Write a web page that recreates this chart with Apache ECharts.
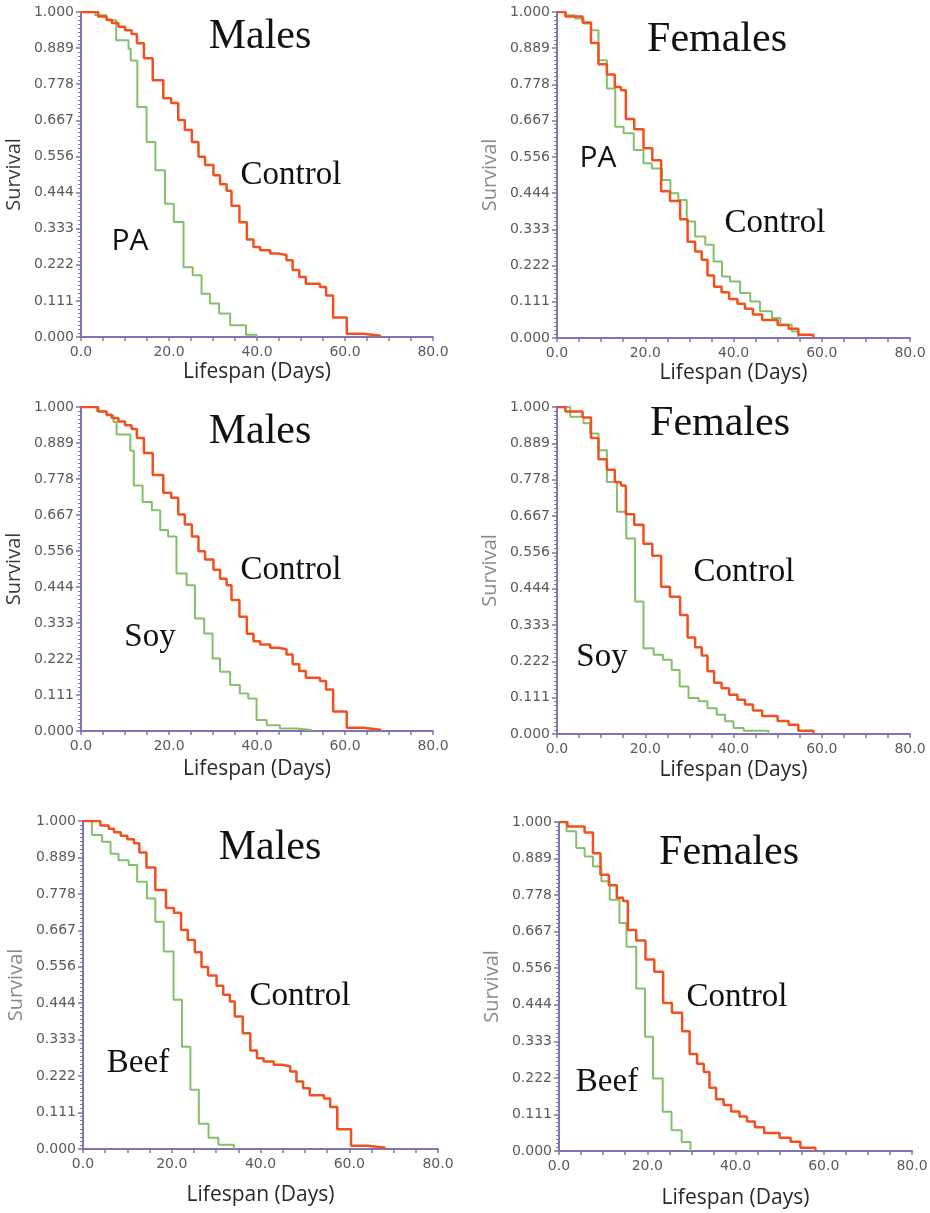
<!DOCTYPE html>
<html>
<head>
<meta charset="utf-8">
<title>Drosophila lifespan: survival curves</title>
<script src="https://cdn.jsdelivr.net/npm/echarts@6.0.0/dist/echarts.min.js"></script>
<style>
  html, body { margin: 0; padding: 0; background: #ffffff; }
  #chart { width: 930px; height: 1213px; }
</style>
</head>
<body>
<div id="chart"></div>
<script>
// ---- Kaplan-Meier step data: day of each step and survival after it ----
// Male control cohort (shared by all male panels)
const maleControlDays = [0, 3.9, 5.8, 7.0, 8.5, 10.0, 11.5, 12.7, 14.3, 16.3, 18.7, 20.5, 22.1, 23.6, 25.2, 26.7, 28.2, 30.1, 31.6, 33.1, 34.2, 36.0, 37.7, 39.2, 40.7, 43.0, 44.8, 46.7, 48.1, 49.6, 51.1, 54.3, 55.7, 57.3, 60.4, 64.2, 68.0];
const maleControlSurv = [1, 0.986, 0.976, 0.966, 0.955, 0.944, 0.932, 0.904, 0.858, 0.79, 0.735, 0.72, 0.668, 0.637, 0.6, 0.555, 0.529, 0.498, 0.47, 0.45, 0.404, 0.353, 0.3, 0.277, 0.267, 0.257, 0.252, 0.236, 0.206, 0.185, 0.164, 0.154, 0.128, 0.06, 0.01, 0.004, 0];

// Female control cohort (shared by all female panels)
const femaleControlDays = [0, 1.9, 5.8, 7.7, 9.4, 11.3, 13.1, 14.5, 15.6, 17.5, 19.6, 21.6, 23.6, 25.6, 27.9, 29.6, 31.3, 32.8, 34.1, 35.6, 37.3, 39.0, 40.9, 42.6, 44.4, 46.5, 50.0, 52.5, 54.7, 58.1];
const femaleControlSurv = [1, 0.986, 0.968, 0.905, 0.84, 0.808, 0.77, 0.76, 0.672, 0.64, 0.582, 0.545, 0.45, 0.42, 0.364, 0.295, 0.265, 0.24, 0.192, 0.157, 0.14, 0.12, 0.105, 0.09, 0.072, 0.055, 0.04, 0.028, 0.01, 0];

// PA diet
const malePADays = [0, 3.2, 5.8, 8.0, 10.8, 11.3, 12.8, 14.9, 16.9, 19.1, 21.1, 23.3, 25.4, 27.4, 29.3, 31.4, 33.9, 37.5, 39.9];
const malePASurv = [1, 0.99, 0.975, 0.913, 0.887, 0.851, 0.708, 0.6, 0.513, 0.41, 0.354, 0.215, 0.19, 0.133, 0.103, 0.072, 0.036, 0.007, 0];
const femalePADays = [0, 2, 4, 6, 7.7, 9.4, 11.3, 13.2, 15.1, 17.4, 19.6, 21.5, 23.8, 25.7, 27.5, 29.4, 31.3, 33.6, 35.5, 37.4, 39.2, 41.5, 43.8, 46.0, 48.7, 50.6, 53.2, 54.7];
const femalePASurv = [1, 0.99, 0.98, 0.965, 0.944, 0.852, 0.765, 0.648, 0.628, 0.577, 0.536, 0.52, 0.485, 0.444, 0.423, 0.357, 0.311, 0.286, 0.235, 0.189, 0.173, 0.138, 0.112, 0.082, 0.061, 0.041, 0.02, 0];

// Soy diet
const maleSoyDays = [0, 3.6, 5.8, 7.4, 8.1, 11.2, 12.0, 14.0, 16.1, 18.0, 19.8, 21.7, 24.0, 25.9, 28.0, 29.9, 31.6, 33.9, 36.1, 38.0, 39.9, 42.2, 45.2, 49.0, 52.4];
const maleSoySurv = [1, 0.987, 0.974, 0.954, 0.915, 0.865, 0.758, 0.707, 0.681, 0.62, 0.6, 0.486, 0.45, 0.347, 0.301, 0.224, 0.183, 0.142, 0.116, 0.1, 0.034, 0.018, 0.008, 0.003, 0];
const femaleSoyDays = [0, 3.0, 6.0, 7.5, 9.4, 11.3, 13.6, 15.7, 17.7, 19.6, 21.9, 24.0, 26.0, 27.8, 29.8, 32.1, 34.1, 36.2, 38.1, 40.0, 42.3, 47.9];
const femaleSoySurv = [1, 0.97, 0.95, 0.919, 0.868, 0.771, 0.68, 0.598, 0.405, 0.262, 0.242, 0.227, 0.196, 0.145, 0.11, 0.1, 0.079, 0.059, 0.039, 0.018, 0.01, 0];

// Beef diet
const maleBeefDays = [0, 2.0, 4.3, 6.2, 8.0, 10.3, 12.2, 14.4, 16.3, 18.2, 20.4, 22.3, 24.2, 26.1, 28.3, 30.5, 34.0];
const maleBeefSurv = [1, 0.957, 0.937, 0.9, 0.88, 0.866, 0.815, 0.764, 0.693, 0.602, 0.455, 0.312, 0.181, 0.077, 0.034, 0.013, 0];
const femaleBeefDays = [0, 1.7, 3.9, 5.8, 7.7, 9.6, 11.5, 13.7, 15.3, 17.5, 19.5, 21.3, 23.5, 25.5, 27.8, 29.8];
const femaleBeefSurv = [1, 0.972, 0.921, 0.895, 0.865, 0.82, 0.764, 0.693, 0.621, 0.494, 0.347, 0.22, 0.119, 0.063, 0.027, 0];

// Axis ticks
const xMax = 80, xTickStep = 5, xLabelStep = 20;
const yTickCount = 9; // survival ticks at k/9

const zip = (days, surv) => days.map((d, i) => [d, surv[i]]);

// ---- panel layout ----
const panels = [
  { sex: 'Males',   treat: 'PA',   ctrl: [maleControlDays, maleControlSurv],     diet: [malePADays, malePASurv],
    grid: { left: 81, top: 12, width: 352, height: 325 }, survColor: '#3a3a3a', xGap: 25,
    titlePos: [260, 37], ctrlPos: [291, 175], dietPos: [130, 241], dietSans: true },
  { sex: 'Females', treat: 'PA',   ctrl: [femaleControlDays, femaleControlSurv], diet: [femalePADays, femalePASurv],
    grid: { left: 557, top: 12, width: 353, height: 326 }, survColor: '#8a8a8a', xGap: 25,
    titlePos: [717, 40], ctrlPos: [775, 223], dietPos: [598, 158], dietSans: true },
  { sex: 'Males',   treat: 'Soy',  ctrl: [maleControlDays, maleControlSurv],     diet: [maleSoyDays, maleSoySurv],
    grid: { left: 81, top: 407, width: 352, height: 324 }, survColor: '#3a3a3a', xGap: 28,
    titlePos: [260, 432], ctrlPos: [291, 570], dietPos: [150, 637] },
  { sex: 'Females', treat: 'Soy',  ctrl: [femaleControlDays, femaleControlSurv], diet: [femaleSoyDays, femaleSoySurv],
    grid: { left: 557, top: 407, width: 353, height: 327 }, survColor: '#8a8a8a', xGap: 26,
    titlePos: [720, 424], ctrlPos: [744, 572], dietPos: [602, 657] },
  { sex: 'Males',   treat: 'Beef', ctrl: [maleControlDays, maleControlSurv],     diet: [maleBeefDays, maleBeefSurv],
    grid: { left: 83, top: 821, width: 355, height: 328 }, survColor: '#8a8a8a', xGap: 36,
    titlePos: [270, 848], ctrlPos: [300, 996], dietPos: [138, 1063] },
  { sex: 'Females', treat: 'Beef', ctrl: [femaleControlDays, femaleControlSurv], diet: [femaleBeefDays, femaleBeefSurv],
    grid: { left: 559, top: 822, width: 353, height: 329 }, survColor: '#8a8a8a', xGap: 37,
    titlePos: [729, 853], ctrlPos: [737, 997], dietPos: [607, 1082] }
];

const axisPurple = '#7f74b4';
const controlColor = '#f1501f';
const dietColor = '#86bf6c';

const grids = [], xAxes = [], yAxes = [], series = [], graphics = [];

panels.forEach((p, i) => {
  grids.push(Object.assign({ containLabel: false, outerBoundsMode: 'none' }, p.grid));

  xAxes.push({
    gridIndex: i, type: 'value', min: 0, max: xMax, interval: xTickStep,
    name: 'Lifespan (Days)', nameLocation: 'middle', nameGap: p.xGap,
    nameTextStyle: { fontFamily: 'Open Sans', fontSize: 21, color: '#2a2a2a' },
    axisLine: { show: true, onZero: false, lineStyle: { color: axisPurple, width: 2 } },
    axisTick: { show: true, length: 4, lineStyle: { color: axisPurple, width: 1.5 } },
    axisLabel: {
      margin: 8, fontFamily: 'DejaVu Sans', fontSize: 14, color: '#5a5a5a',
      formatter: v => (Math.round(v) % xLabelStep === 0 ? v.toFixed(1) : '')
    },
    splitLine: { show: false }
  });

  yAxes.push({
    gridIndex: i, type: 'value', min: 0, max: 1, interval: 1 / yTickCount,
    name: 'Survival', nameLocation: 'middle', nameGap: 57,
    nameTextStyle: { fontFamily: 'Open Sans', fontSize: 20, color: p.survColor },
    axisLine: { show: true, onZero: false, lineStyle: { color: axisPurple, width: 2 } },
    axisTick: { show: true, length: 5, lineStyle: { color: axisPurple, width: 1.5 } },
    minorTick: { show: true, splitNumber: 9, length: 3, lineStyle: { color: axisPurple, width: 1 } },
    axisLabel: {
      margin: 7, fontFamily: 'DejaVu Sans', fontSize: 14, color: '#5a5a5a',
      formatter: v => v.toFixed(3)
    },
    splitLine: { show: false }
  });

  series.push({
    name: p.treat + ' ' + p.sex, type: 'line', step: 'end',
    xAxisIndex: i, yAxisIndex: i, showSymbol: false, symbol: 'none',
    data: zip(p.diet[0], p.diet[1]),
    lineStyle: { color: dietColor, width: 2 }, z: 2
  });
  series.push({
    name: 'Control ' + p.sex, type: 'line', step: 'end',
    xAxisIndex: i, yAxisIndex: i, showSymbol: false, symbol: 'none',
    data: zip(p.ctrl[0], p.ctrl[1]),
    lineStyle: { color: controlColor, width: 2.5 }, z: 3
  });

  const serif = '"Liberation Serif", "Times New Roman", serif';
  graphics.push({
    type: 'text', x: p.titlePos[0], y: p.titlePos[1], z: 10,
    style: { text: p.sex, font: '42px ' + serif, fill: '#111', textAlign: 'center', textVerticalAlign: 'middle' }
  });
  graphics.push({
    type: 'text', x: p.ctrlPos[0], y: p.ctrlPos[1], z: 10,
    style: { text: 'Control', font: '33px ' + serif, fill: '#111', textAlign: 'center', textVerticalAlign: 'middle' }
  });
  graphics.push({
    type: 'text', x: p.dietPos[0], y: p.dietPos[1], z: 10,
    style: {
      text: p.treat,
      font: p.dietSans ? '30px "Open Sans", sans-serif' : '33px ' + serif,
      fill: '#111', textAlign: 'center', textVerticalAlign: 'middle'
    }
  });
});

const chart = echarts.init(document.getElementById('chart'), null, { renderer: 'canvas', width: 930, height: 1213 });
chart.setOption({
  backgroundColor: '#ffffff',
  animation: false,
  grid: grids,
  xAxis: xAxes,
  yAxis: yAxes,
  series: series,
  graphic: graphics
});
</script>
</body>
</html>
